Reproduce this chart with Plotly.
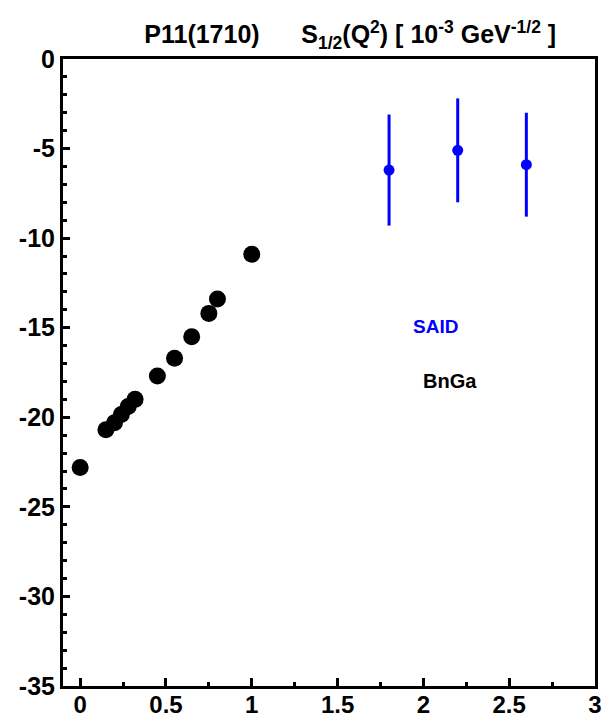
import plotly.graph_objects as go

# BnGa helicity amplitude S1/2 of P11(1710) vs Q^2
bnga_q2 = [0.0, 0.15, 0.2, 0.24, 0.28, 0.32, 0.45, 0.55, 0.65, 0.75, 0.8, 1.0]
bnga_s12 = [-22.8, -20.7, -20.3, -19.85, -19.4, -19.0, -17.7, -16.7, -15.5, -14.2, -13.4, -10.9]

# SAID values with errors
said_q2 = [1.8, 2.2, 2.6]
said_s12 = [-6.2, -5.1, -5.9]
said_err = [3.1, 2.9, 2.9]

x_ticks = [0, 0.5, 1, 1.5, 2, 2.5, 3]
x_ticktext = ["0", "0.5", "1", "1.5", "2", "2.5", "3"]
y_ticks = [0, -5, -10, -15, -20, -25, -30, -35]
y_ticktext = ["0", "-5", "-10", "-15", "-20", "-25", "-30", "-35"]

FONT = "Liberation Sans, Arial"

fig = go.Figure()
fig.add_trace(go.Scatter(
    x=bnga_q2, y=bnga_s12, mode="markers",
    marker=dict(color="black", size=17),
    showlegend=False,
))
fig.add_trace(go.Scatter(
    x=said_q2, y=said_s12, mode="markers",
    marker=dict(color="#0000ff", size=11),
    error_y=dict(type="data", array=said_err, color="#0000ff", thickness=3, width=0),
    showlegend=False,
))

fig.add_annotation(x=2.07, y=-14.95, xref="x", yref="y", text="<b>SAID</b>",
                   showarrow=False, font=dict(family=FONT, size=19, color="#0000ff"))
fig.add_annotation(x=2.155, y=-18.0, xref="x", yref="y", text="<b>BnGa</b>",
                   showarrow=False, font=dict(family=FONT, size=20, color="black"))

nb = "\u00a0"
title_text = ("<b>P11(1710)" + nb * 6 +
              "S<sub>1/2</sub>(Q<sup>2</sup>)" + nb + "[" + nb +
              "10<sup>-3</sup> GeV<sup>-1/2</sup>" + nb + "]</b>")

fig.update_layout(
    width=607, height=722,
    margin=dict(l=63, r=12, t=59, b=36),
    paper_bgcolor="white", plot_bgcolor="white",
    title=dict(
        text=title_text,
        x=0.577, xanchor="center", y=0.952, yanchor="middle",
        font=dict(family=FONT, size=25, color="black"),
    ),
    xaxis=dict(
        range=[-0.1, 3.0], showgrid=False, zeroline=False, automargin=False,
        showline=True, linecolor="black", linewidth=3, mirror=True,
        tickmode="array", tickvals=x_ticks, ticktext=x_ticktext,
        ticks="inside", ticklen=8, tickwidth=3, tickcolor="black",
        minor=dict(tickmode="array", tickvals=[0.25, 0.75, 1.25, 1.75, 2.25, 2.75],
                   ticks="inside", ticklen=4, tickwidth=3, tickcolor="black"),
        tickfont=dict(family=FONT, size=24, color="black", weight="bold"),
    ),
    yaxis=dict(
        range=[-35, 0], showgrid=False, zeroline=False, automargin=False,
        showline=True, linecolor="black", linewidth=3, mirror=True,
        tickmode="array", tickvals=y_ticks, ticktext=y_ticktext,
        ticks="inside", ticklen=7, tickwidth=3, tickcolor="black",
        minor=dict(dtick=1, ticks="inside", ticklen=4, tickwidth=3, tickcolor="black"),
        tickfont=dict(family=FONT, size=25, color="black", weight="bold"),
    ),
)

# pull the x tick labels a little closer to the axis line
try:
    fig.update_xaxes(ticklabelstandoff=-5)
except ValueError:
    pass

fig.write_html("out.html")
